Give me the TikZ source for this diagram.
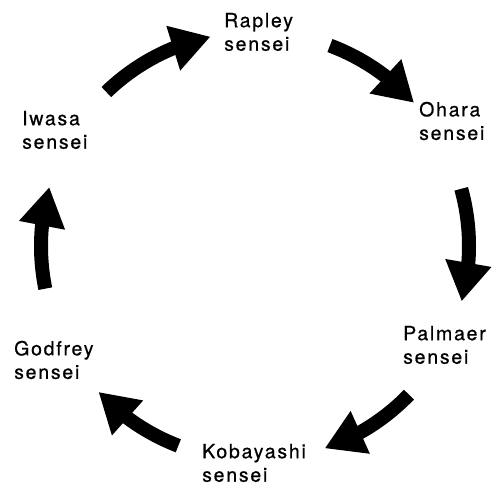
\documentclass[tikz,border=0pt]{standalone}
\usepackage{fontspec}
\setmainfont{TeX Gyre Heros}[LetterSpace=9,FakeBold=0.6]
\usetikzlibrary{arrows.meta,bending}
\tikzset{
  sensei/.style={anchor=west,align=left,inner sep=0pt,font=\fontsize{19.5}{23.5}\selectfont},
  flow/.style={line width=14pt,-{Triangle[width=44pt,length=39pt]}}
}
\begin{document}
\begin{tikzpicture}[x=1pt,y=1pt]
    \useasboundingbox (0,0) rectangle (502,486);
    \coordinate (hub) at (255,240);
    \node[sensei] (rapley) at (224,454) {Rapley\\sensei};
    \node[sensei] (ohara) at (419,365) {Ohara\\sensei};
    \node[sensei] (palmaer) at (403,141) {Palmaer\\sensei};
    \node[sensei] (kobayashi) at (202,23) {Kobayashi\\sensei};
    \node[sensei] (godfrey) at (14,126) {Godfrey\\sensei};
    \node[sensei] (iwasa) at (22,356) {Iwasa\\sensei};
    \foreach \from/\to [count=\i] in {134/102,69.5/42,15.5/-15,-44/-71,-111/-137,191.5/164} {
      \coordinate (tail\i) at ([shift={(\from:214)}]hub);
      \draw[flow] (tail\i) arc[start angle=\from,end angle=\to,radius=214pt];
    }
  \end{tikzpicture}
\end{document}
